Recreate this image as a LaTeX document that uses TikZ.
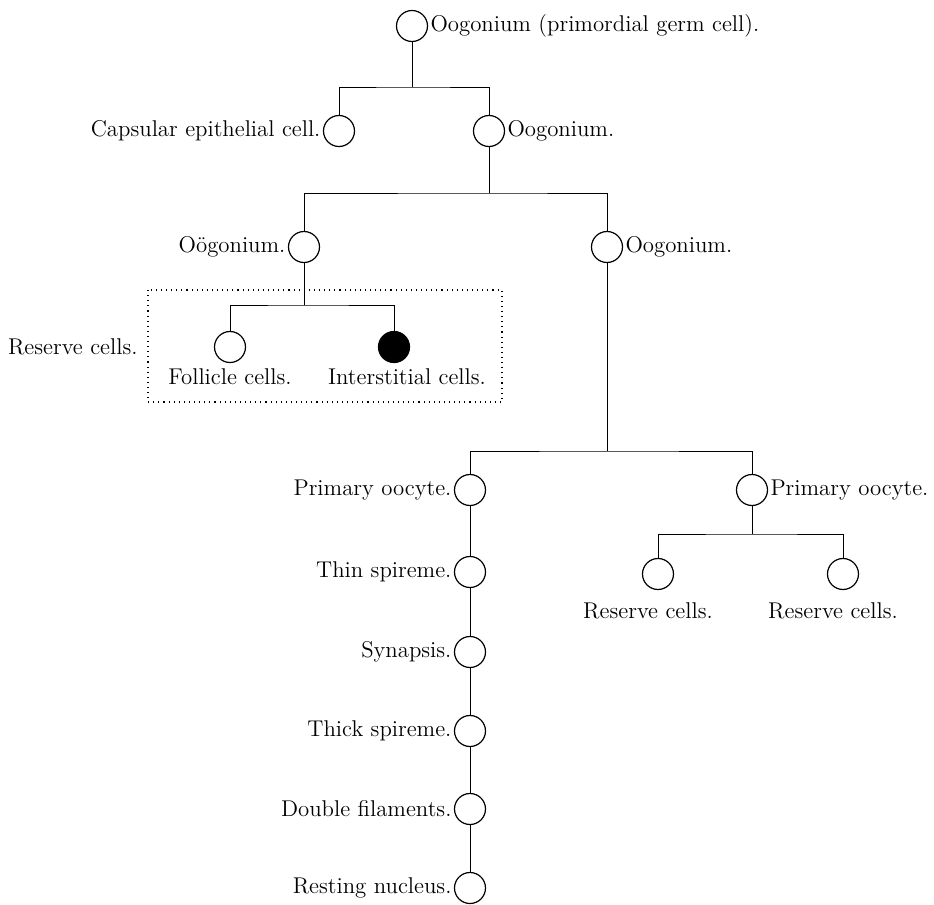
\documentclass[tikz,border=0pt]{standalone}
\usepackage{fontspec}
\usetikzlibrary{positioning}

\tikzset{
  cell/.style={circle, draw, line width=0.6pt, minimum size=15.5pt, inner sep=0pt},
  lbl/.style={inner sep=1pt, font=\fontsize{11.4}{13}\selectfont},
}

\begin{document}
\begin{tikzpicture}[x=0.5pt, y=-0.5pt, line width=0.45pt]
	\useasboundingbox (0,0) rectangle (934,905);

	% Primordial germ cell
	\node[cell] (og) at (412,26) {};
	\node[lbl, right=0pt of og] (ogt) {Oogonium (primordial germ cell).};

	% First division
	\node[cell] (cap) at (339,131) {};
	\node[lbl, left=0pt of cap] (capt) {Capsular epithelial cell.};
	\node[cell] (oa) at (489,131) {};
	\node[lbl, right=0pt of oa] (oat) {Oogonium.};
	\coordinate (b1) at (412,87);
	\draw (og.south) -- (b1);
	\draw (cap.north) |- (b1) -| (oa.north);

	% Second division
	\node[cell] (ob) at (304,247) {};
	\node[lbl, left=0pt of ob] (obt) {Oögonium.};
	\node[cell] (oc) at (607,247) {};
	\node[lbl, right=0pt of oc] (oct) {Oogonium.};
	\coordinate (b2) at (489,193);
	\draw (oa.south) -- (b2);
	\draw (ob.north) |- (b2) -| (oc.north);

	% Reserve cells
	\node[cell] (foll) at (230,347) {};
	\node[lbl, below=1.5pt of foll] (follt) {Follicle cells.};
	\node[cell, fill=black] (inter) at (394,347) {};
	\node[lbl, below=1.5pt of inter, xshift=6.5pt] (intert) {Interstitial cells.};
	\coordinate (b3) at (304,305);
	\draw (ob.south) -- (b3);
	\draw (foll.north) |- (b3) -| (inter.north);
	\coordinate (boxnw) at (148,290);
	\coordinate (boxse) at (502,402);
	\draw[dotted, line width=0.55pt] (boxnw) rectangle (boxse);
	\coordinate (boxw) at (148,347);
	\node[lbl, left=4pt of boxw] (rest) {Reserve cells.};

	% Primary oocytes
	\node[cell] (pa) at (470,490) {};
	\node[lbl, left=0pt of pa] (pat) {Primary oocyte.};
	\node[cell] (pb) at (752,490) {};
	\node[lbl, right=0pt of pb] (pbt) {Primary oocyte.};
	\coordinate (b4) at (607,451);
	\draw (oc.south) -- (b4);
	\draw (pa.north) |- (b4) -| (pb.north);

	% Right branch
	\node[cell] (ra) at (658,574) {};
	\node[lbl, below=5pt of ra, xshift=-5pt] (rat) {Reserve cells.};
	\node[cell] (rb) at (843,574) {};
	\node[lbl, below=5pt of rb, xshift=-5pt] (rbt) {Reserve cells.};
	\coordinate (b5) at (752,534);
	\draw (pb.south) -- (b5);
	\draw (ra.north) |- (b5) -| (rb.north);

	% Stages of the oocyte
	\node[cell] (thin) at (470,572) {};
	\node[lbl, left=0pt of thin] (thint) {Thin spireme.};
	\node[cell] (syn) at (470,652) {};
	\node[lbl, left=0pt of syn] (synt) {Synapsis.};
	\node[cell] (thick) at (470,731) {};
	\node[lbl, left=0pt of thick] (thickt) {Thick spireme.};
	\node[cell] (dbl) at (470,809) {};
	\node[lbl, left=0pt of dbl] (dblt) {Double filaments.};
	\node[cell] (rnuc) at (470,888) {};
	\node[lbl, left=0pt of rnuc] (rnuct) {Resting nucleus.};
	\draw (pa.south) -- (thin.north);
	\draw (thin.south) -- (syn.north);
	\draw (syn.south) -- (thick.north);
	\draw (thick.south) -- (dbl.north);
	\draw (dbl.south) -- (rnuc.north);
\end{tikzpicture}
\end{document}
